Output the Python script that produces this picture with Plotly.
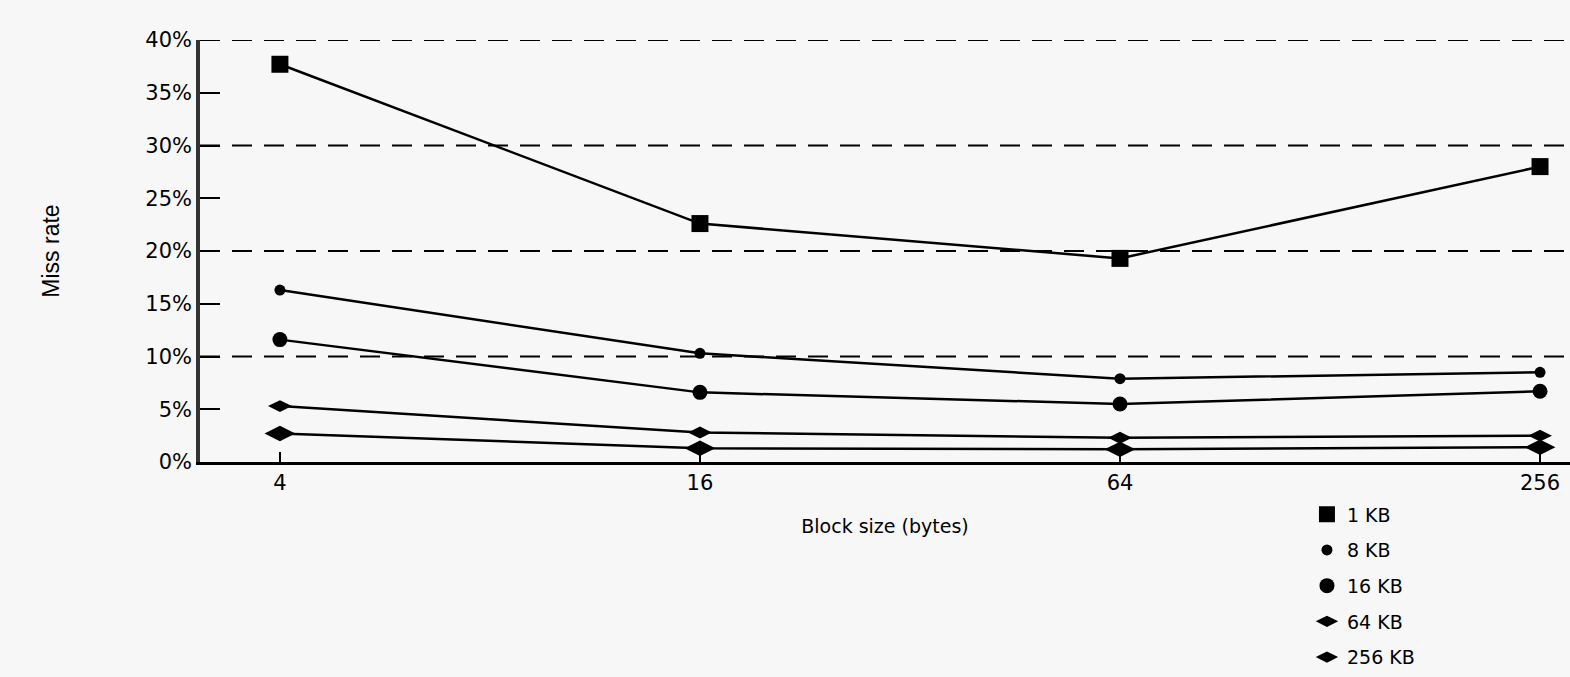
import plotly.graph_objects as go

block_sizes = [4, 16, 64, 256]
series_names = ["1 KB", "8 KB", "16 KB", "64 KB", "256 KB"]
miss_1kb = [37.7, 22.6, 19.3, 28.0]
miss_8kb = [16.3, 10.3, 7.9, 8.5]
miss_16kb = [11.6, 6.6, 5.5, 6.7]
miss_64kb = [5.3, 2.8, 2.3, 2.5]
miss_256kb = [2.7, 1.3, 1.2, 1.4]
y_tick_vals = [0, 5, 10, 15, 20, 25, 30, 35, 40]
y_tick_text = ["0%", "5%", "10%", "15%", "20%", "25%", "30%", "35%", "40%"]

all_series = [miss_1kb, miss_8kb, miss_16kb, miss_64kb, miss_256kb]
symbols = ["square", "circle", "circle", "diamond-wide", "diamond-wide"]
sizes = [17, 11, 15, 17, 22]

FONT = "DejaVu Sans, Verdana, sans-serif"
BG = "#f7f7f7"

fig = go.Figure()
for name, vals, sym, sz in zip(series_names, all_series, symbols, sizes):
    fig.add_trace(go.Scatter(
        x=block_sizes, y=vals, mode="lines+markers", showlegend=False,
        line=dict(color="black", width=2.5),
        marker=dict(symbol=sym, size=sz, color="black"),
        name=name,
    ))
for i, (name, sym, sz) in enumerate(zip(series_names, symbols, sizes)):
    fig.add_trace(go.Scatter(
        x=[None], y=[None], mode="markers", name=name, legendgroup=f"g{i}",
        marker=dict(symbol=sym, size=sz, color="black"),
    ))

fig.update_layout(
    width=1570, height=677,
    paper_bgcolor=BG, plot_bgcolor=BG,
    margin=dict(l=200, r=0, t=40, b=215),
    font=dict(family=FONT, size=19, color="black"),
    showlegend=True,
    legend=dict(
        x=0.808, y=-0.508, xanchor="left", yanchor="bottom",
        bgcolor="rgba(0,0,0,0)", tracegroupgap=8, borderwidth=0,
        font=dict(family=FONT, size=19),
        itemwidth=30,
    ),
    xaxis=dict(
        type="log", range=[0.4875, 2.4512],
        tickvals=block_sizes, ticktext=[str(v) for v in block_sizes],
        showgrid=False, zeroline=False,
        showline=True, linecolor="black", linewidth=2.5,
        ticks="inside", ticklen=10, tickwidth=2, tickcolor="black",
        tickfont=dict(family=FONT, size=21),
        title=dict(text="Block size (bytes)", standoff=26,
                   font=dict(family=FONT, size=19)),
    ),
    yaxis=dict(
        range=[0, 40], tickvals=y_tick_vals, ticktext=y_tick_text,
        showgrid=False, zeroline=False,
        showline=True, linecolor="#333", linewidth=3.5,
        ticks="inside", ticklen=20, tickwidth=2, tickcolor="black",
        tickfont=dict(family=FONT, size=21),
        title=dict(text="Miss rate", standoff=80,
                   font=dict(family="Liberation Sans Narrow, Liberation Sans, sans-serif", size=23)),
    ),
)

for g in [10, 20, 30, 40]:
    fig.add_hline(y=g, line=dict(color="black", width=1.8, dash="20px,12px"), layer="below")

fig.write_html("out.html", config={"displayModeBar": False},
               post_script="document.body.style.margin='0';document.body.style.background='#f7f7f7';")
